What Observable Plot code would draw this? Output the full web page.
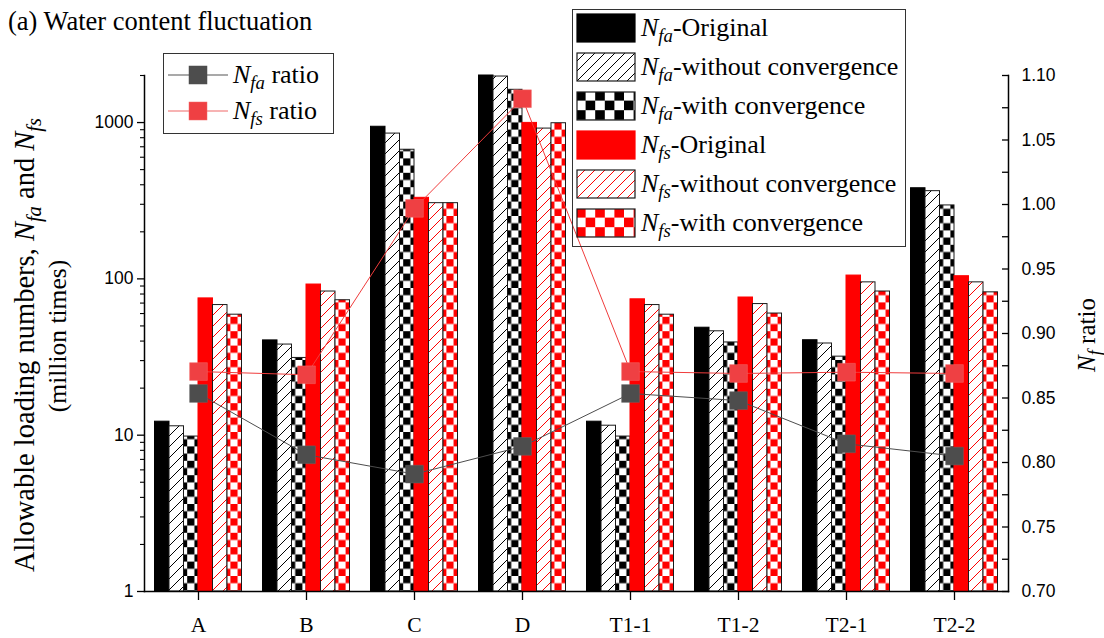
<!DOCTYPE html>
<html>
<head>
<meta charset="utf-8">
<script src="https://cdn.jsdelivr.net/npm/d3@7"></script>
<script src="https://cdn.jsdelivr.net/npm/@observablehq/plot@0.6"></script>
<style>
  body { margin: 0; background: #fff; }
  #wrap { position: relative; width: 1104px; height: 638px; overflow: hidden; font-family: "Liberation Serif", "Times New Roman", serif; color: #000; }
  #wrap > svg.plot { position: absolute; left: 0; top: 0; }
  .abs { position: absolute; white-space: nowrap; }
  sub { font-size: 0.72em; vertical-align: -0.32em; line-height: 0; }
  .rot { transform: translate(-50%, -50%) rotate(-90deg); }
  .legend { position: absolute; border: 1.3px solid #333; box-sizing: border-box; }
  .lrow { position: absolute; display: flex; align-items: center; white-space: nowrap; }
</style>
</head>
<body>
<div id="wrap">
  <svg width="0" height="0" style="position:absolute">
    <defs>
      <pattern id="hatchK" patternUnits="userSpaceOnUse" width="11" height="11">
        <rect width="11" height="11" fill="#fff"/>
        <path d="M-1,1 l2,-2 M0,11 l11,-11 M10,12 l2,-2" stroke="#000" stroke-width="1"/>
      </pattern>
      <pattern id="hatchR" patternUnits="userSpaceOnUse" width="11" height="11">
        <rect width="11" height="11" fill="#fff"/>
        <path d="M-1,1 l2,-2 M0,11 l11,-11 M10,12 l2,-2" stroke="#ff0000" stroke-width="1"/>
      </pattern>
      <pattern id="checkK" patternUnits="userSpaceOnUse" width="14.4" height="14.4">
        <rect width="14.4" height="14.4" fill="#fff"/>
        <rect width="7.2" height="7.2" fill="#000"/>
        <rect x="7.2" y="7.2" width="7.2" height="7.2" fill="#000"/>
      </pattern>
      <pattern id="checkR" patternUnits="userSpaceOnUse" width="14.4" height="14.4">
        <rect width="14.4" height="14.4" fill="#fff"/>
        <rect width="7.2" height="7.2" fill="#ff0000"/>
        <rect x="7.2" y="7.2" width="7.2" height="7.2" fill="#ff0000"/>
      </pattern>
      <pattern id="hatchKL" patternUnits="userSpaceOnUse" width="10" height="10">
        <rect width="10" height="10" fill="#fff"/>
        <path d="M-1,1 l2,-2 M0,10 l10,-10 M9,11 l2,-2" stroke="#000" stroke-width="1"/>
      </pattern>
      <pattern id="hatchRL" patternUnits="userSpaceOnUse" width="10" height="10">
        <rect width="10" height="10" fill="#fff"/>
        <path d="M-1,1 l2,-2 M0,10 l10,-10 M9,11 l2,-2" stroke="#ff0000" stroke-width="1"/>
      </pattern>
      <pattern id="checkKL" patternUnits="userSpaceOnUse" width="19.2" height="19.2">
        <rect width="19.2" height="19.2" fill="#fff"/>
        <rect width="9.6" height="9.6" fill="#000"/>
        <rect x="9.6" y="9.6" width="9.6" height="9.6" fill="#000"/>
      </pattern>
      <pattern id="checkRL" patternUnits="userSpaceOnUse" width="19.2" height="19.2">
        <rect width="19.2" height="19.2" fill="#fff"/>
        <rect width="9.6" height="9.6" fill="#ff0000"/>
        <rect x="9.6" y="9.6" width="9.6" height="9.6" fill="#ff0000"/>
      </pattern>
    </defs>
  </svg>
</div>
<script>
// ---------------- data ----------------
const categories = ["A", "B", "C", "D", "T1-1", "T1-2", "T2-1", "T2-2"];

const nfaOriginal = [12.2, 40.4, 940, 2000, 12.2, 48.7, 40.5, 380];
const nfaWithout  = [11.4, 38.0, 850, 1970, 11.5, 46.2, 38.6, 364];
const nfaWith     = [9.8, 31.2, 670, 1620, 9.8, 39.2, 31.8, 295];
const nfsOriginal = [75, 92, 330, 995, 74, 76, 105, 104];
const nfsWithout  = [68, 83, 305, 915, 68, 69, 95, 95];
const nfsWith     = [59, 73, 305, 990, 59, 60, 83, 82];

const nfaRatio = [0.8535, 0.806, 0.791, 0.8125, 0.8535, 0.848, 0.8145, 0.805];
const nfsRatio = [0.8705, 0.868, 0.997, 1.082, 0.8705, 0.869, 0.870, 0.869];

const leftMajorTicks = [1, 10, 100, 1000];
const leftMinorTicks = [2, 3, 4, 5, 6, 7, 8, 9, 20, 30, 40, 50, 60, 70, 80, 90,
                        200, 300, 400, 500, 600, 700, 800, 900, 2000];
const rightMajorTicks = [0.70, 0.75, 0.80, 0.85, 0.90, 0.95, 1.00, 1.05, 1.10];
const rightAllTicks = [0.70, 0.725, 0.75, 0.775, 0.80, 0.825, 0.85, 0.875, 0.90, 0.925,
                       0.95, 0.975, 1.00, 1.025, 1.05, 1.075, 1.10];

const seriesLabels = ["Original", "without convergence", "with convergence"];

// ---------------- helpers ----------------
const yDomain = [1, 2000];
const ratioDomain = [0.70, 1.10];
// map a ratio onto the (log) left y scale domain, so it is drawn through the y scale
const ratioToY = r => Math.pow(10, (r - ratioDomain[0]) / (ratioDomain[1] - ratioDomain[0]) * Math.log10(yDomain[1]));

const W = 1104, H = 638;
const mL = 144, mR = 96, mT = 75, mB = 47;
const bandW = (W - mL - mR) / categories.length;
const barW = 14.5;
const groupPad = (bandW - 6 * barW) / 2;

const series = [
  {values: nfaOriginal, fill: "#000", stroke: "#000"},
  {values: nfaWithout,  fill: "url(#hatchK)", stroke: "#1a1a1a"},
  {values: nfaWith,     fill: "url(#checkK)", stroke: "#1a1a1a"},
  {values: nfsOriginal, fill: "#ff0000", stroke: "#ff0000"},
  {values: nfsWithout,  fill: "url(#hatchR)", stroke: "#1a1a1a"},
  {values: nfsWith,     fill: "url(#checkR)", stroke: "#1a1a1a"}
];

const rows = categories.map((c, i) => ({cat: c, i}));

const barMarks = series.map((s, j) => Plot.barY(rows, {
  x: "cat",
  y1: 1,
  y2: d => s.values[d.i],
  fill: s.fill,
  stroke: s.stroke,
  strokeWidth: 1,
  insetLeft: groupPad + j * barW,
  insetRight: bandW - groupPad - (j + 1) * barW
}));

const sans = '"Liberation Sans", Arial, sans-serif';
const serif = '"Liberation Serif", "Times New Roman", serif';

const chart = Plot.plot({
  width: W, height: H,
  marginLeft: mL, marginRight: mR, marginTop: mT, marginBottom: mB,
  style: {fontFamily: sans, fontSize: "17.5px", color: "#000", background: "transparent", overflow: "visible"},
  x: {domain: categories, padding: 0, label: null},
  y: {type: "log", domain: yDomain, label: null},
  marks: [
    ...barMarks,
    Plot.line(rows, {x: "cat", y: d => ratioToY(nfaRatio[d.i]), stroke: "#4d4d4d", strokeWidth: 1}),
    Plot.line(rows, {x: "cat", y: d => ratioToY(nfsRatio[d.i]), stroke: "#f03c3c", strokeWidth: 1}),
    Plot.dot(rows, {x: "cat", y: d => ratioToY(nfaRatio[d.i]), symbol: "square", r: 10, fill: "#4d4d4d", stroke: "#666", strokeWidth: 0.5}),
    Plot.dot(rows, {x: "cat", y: d => ratioToY(nfsRatio[d.i]), symbol: "square", r: 10, fill: "#ef4043", stroke: "#f26a6a", strokeWidth: 0.5}),
    // left axis
    Plot.axisY(leftMajorTicks, {anchor: "left", tickSize: 7, tickPadding: 4, tickFormat: d => String(d), fontSize: 17.5, fontFamily: sans, strokeWidth: 1.3}),
    Plot.axisY(leftMinorTicks, {anchor: "left", tickSize: 4, tickFormat: () => "", strokeWidth: 1.1}),
    // right axis (ratio): inward ticks + labels
    Plot.axisY(rightAllTicks.map(ratioToY), {anchor: "right", tickSize: -7, tickFormat: () => "", strokeWidth: 1.3}),
    Plot.text(rightMajorTicks, {y: r => ratioToY(r), text: r => r.toFixed(2), frameAnchor: "right", textAnchor: "start", dx: 13,
      fontSize: 17.5, fontFamily: sans, fill: "#000"}),
    // bottom axis
    Plot.axisX({tickSize: 9, tickPadding: 16, fontSize: 21.5, fontFamily: serif, strokeWidth: 1.3}),
    Plot.frame({anchor: "left", strokeWidth: 1.5}),
    Plot.frame({anchor: "right", strokeWidth: 1.5}),
    Plot.frame({anchor: "bottom", strokeWidth: 1.5})
  ]
});
chart.classList.add("plot");
const wrap = document.getElementById("wrap");
wrap.appendChild(chart);

// ---------------- text ----------------
function addDiv(html, css, cls) {
  const d = document.createElement("div");
  d.className = "abs" + (cls ? " " + cls : "");
  d.innerHTML = html;
  Object.assign(d.style, css);
  wrap.appendChild(d);
  return d;
}
addDiv("(a) Water content fluctuation", {left: "8px", top: "5px", fontSize: "26.5px", lineHeight: "32px"});
addDiv("Allowable loading numbers, <i>N</i><sub><i>fa</i></sub> and <i>N</i><sub><i>fs</i></sub>",
  {left: "25px", top: "345px", fontSize: "28.5px", lineHeight: "30px"}, "rot");
addDiv("(million times)", {left: "58px", top: "336px", fontSize: "25.5px", lineHeight: "28px"}, "rot");
addDiv("<i>N</i><sub><i>f</i></sub> ratio", {left: "1087px", top: "335px", fontSize: "25px", lineHeight: "28px"}, "rot");

// ---------------- bar legend ----------------
const bar = document.createElement("div");
bar.className = "legend";
Object.assign(bar.style, {left: "572px", top: "9px", width: "334px", height: "238px"});
wrap.appendChild(bar);
const legendFills = ["#000", "url(#hatchKL)", "url(#checkKL)", "#ff0000", "url(#hatchRL)", "url(#checkRL)"];
const legendStrokes = ["#000", "#1a1a1a", "#1a1a1a", "#ff0000", "#1a1a1a", "#1a1a1a"];
legendFills.forEach((f, k) => {
  const sub = k < 3 ? "fa" : "fs";
  const r = document.createElement("div");
  r.className = "lrow";
  Object.assign(r.style, {left: "3px", top: (3 + k * 39) + "px", height: "30px", fontSize: "26px"});
  r.innerHTML = `<svg width="60" height="30" style="flex:none"><rect x="1" y="1" width="58" height="28" fill="${f}" stroke="${legendStrokes[k]}" stroke-width="1.2"/></svg>` +
    `<span style="margin-left:5px"><i>N</i><sub><i>${sub}</i></sub>-${seriesLabels[k % 3]}</span>`;
  bar.appendChild(r);
});

// ---------------- ratio legend ----------------
const rl = document.createElement("div");
rl.className = "legend";
Object.assign(rl.style, {left: "163px", top: "53px", width: "171px", height: "81px"});
wrap.appendChild(rl);
[["fa", "#4d4d4d", "#4d4d4d", "#8c8c8c"], ["fs", "#ef4043", "#f26a6a", "#f59a9a"]].forEach(([s, fill, st, lc], k) => {
  const r = document.createElement("div");
  r.className = "lrow";
  Object.assign(r.style, {left: "4px", top: (4 + k * 36) + "px", height: "34px", fontSize: "26px"});
  r.innerHTML = `<svg width="60" height="34" style="flex:none"><line x1="0" x2="60" y1="17" y2="17" stroke="${lc}" stroke-width="1.5"/><rect x="21" y="8" width="18" height="18" fill="${fill}" stroke="${st}" stroke-width="0.5"/></svg>` +
    `<span style="margin-left:5px"><i>N</i><sub><i>${s}</i></sub> ratio</span>`;
  rl.appendChild(r);
});
</script>
</body>
</html>
